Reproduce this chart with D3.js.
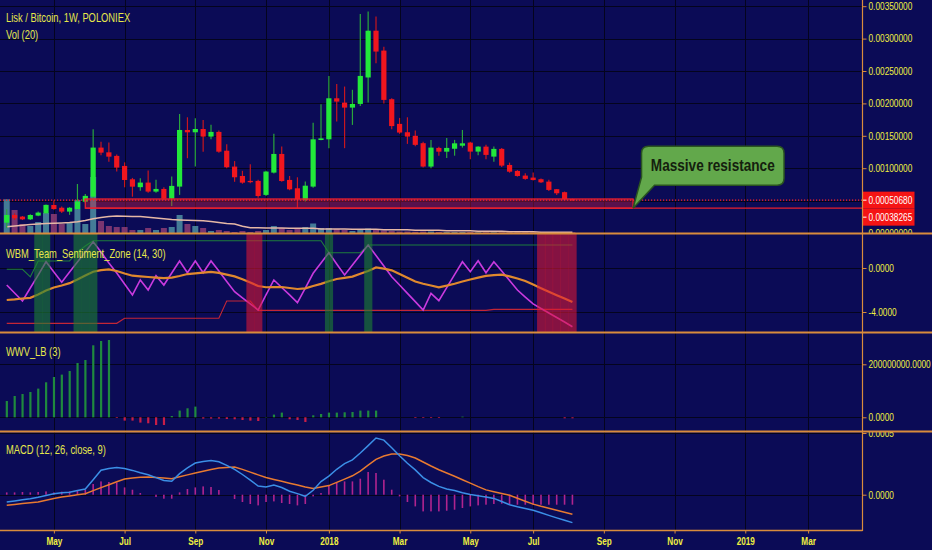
<!DOCTYPE html>
<html>
<head>
<meta charset="utf-8">
<script src="https://cdn.jsdelivr.net/npm/d3@7"></script>
<style>
  html, body { margin: 0; padding: 0; background: #0b0b56; }
  svg { display: block; }
</style>
</head>
<body>
<svg id="chart" width="932" height="550"></svg>
<script>
// ---- Weekly LSK/BTC (Poloniex), first bar in the week of 2017-03-20 ----
const firstWeek = "2017-03-20";

const opens = [
  0.000159,0.000278,0.000253,0.000211,0.000268,0.000304,0.000432,0.000390,0.000330,0.000370,
  0.000483,0.000560,0.001318,0.001245,0.001190,0.001035,0.000829,0.000707,0.000778,0.000639,
  0.000680,0.000530,0.000716,0.001590,0.001554,0.001605,0.001488,0.001560,0.001270,0.001025,
  0.000880,0.000804,0.000804,0.000588,0.000932,0.001220,0.000819,0.000690,0.000509,0.000716,
  0.001435,0.001446,0.002079,0.002012,0.001935,0.001992,0.002400,0.003122,0.002815,0.002065,
  0.001684,0.001555,0.001500,0.001386,0.001025,0.001313,0.001255,0.001300,0.001347,0.001395,
  0.001256,0.001333,0.001179,0.001298,0.001050,0.000958,0.000886,0.000855,0.000830,0.000793,
  0.000676,0.000630,0.000522
];
const highs = [
  0.000366,0.000304,0.000262,0.000290,0.000330,0.000440,0.000500,0.000410,0.000400,0.000756,
  0.000600,0.001600,0.001410,0.001395,0.001210,0.001090,0.000850,0.000845,0.000963,0.000820,
  0.000707,0.000870,0.001836,0.001786,0.001770,0.001745,0.001670,0.001580,0.001370,0.001110,
  0.000960,0.001060,0.000820,0.000960,0.001530,0.001333,0.000880,0.000860,0.000793,0.001700,
  0.001986,0.002423,0.002300,0.002260,0.002210,0.003380,0.003417,0.003340,0.002876,0.002080,
  0.001776,0.001786,0.001580,0.001410,0.001437,0.001330,0.001466,0.001437,0.001590,0.001410,
  0.001340,0.001360,0.001333,0.001310,0.001086,0.000970,0.000923,0.000932,0.000840,0.000820,
  0.000680,0.000640,0.000530
];
const lows = [
  0.0000725,0.000201,0.000200,0.000200,0.000260,0.000300,0.000360,0.000310,0.000280,0.000360,
  0.000460,0.000510,0.001200,0.001100,0.000950,0.000705,0.000560,0.000653,0.000620,0.000620,
  0.000510,0.000417,0.000588,0.001154,0.001025,0.001255,0.001447,0.001240,0.001000,0.000790,
  0.000760,0.000768,0.000545,0.000570,0.000920,0.000790,0.000660,0.000380,0.000485,0.000700,
  0.001430,0.001309,0.001720,0.001309,0.001668,0.001960,0.002012,0.002620,0.002000,0.001600,
  0.001530,0.001375,0.001340,0.001010,0.001000,0.001194,0.001157,0.001193,0.001318,0.001139,
  0.001200,0.001139,0.001100,0.001020,0.000930,0.000870,0.000820,0.000810,0.000770,0.000650,
  0.000588,0.000510,0.000500
];
const closes = [
  0.000278,0.000227,0.000211,0.000278,0.000315,0.000434,0.000370,0.000330,0.000390,0.000485,
  0.000573,0.001318,0.001240,0.001178,0.001010,0.000818,0.000715,0.000778,0.000639,0.000680,
  0.000530,0.000727,0.001590,0.001554,0.001605,0.001488,0.001560,0.001255,0.001015,0.000860,
  0.000777,0.000784,0.000571,0.000948,0.001220,0.000802,0.000674,0.000520,0.000730,0.001446,
  0.001460,0.002079,0.002028,0.001935,0.001992,0.002424,0.003122,0.002800,0.002054,0.001650,
  0.001550,0.001488,0.001360,0.001025,0.001318,0.001255,0.001313,0.001384,0.001384,0.001256,
  0.001333,0.001205,0.001298,0.001040,0.000946,0.000880,0.000835,0.000818,0.000782,0.000665,
  0.000613,0.000522,0.0005068
];
const volumes = [
  6740,4600,1800,1400,2200,4000,3800,1800,2000,6600,
  1800,11200,2400,1400,1200,1200,600,600,1000,600,
  1000,1200,3600,1800,1400,1000,400,600,400,200,
  400,200,400,600,1400,1000,600,1000,1200,1900,
  1000,1000,800,600,400,800,900,600,500,400,
  300,300,240,300,300,200,200,200,200,200,
  140,140,140,140,140,140,140,140,140,140,
  140,140,140
];
const volumeMA = [
  1260,1400,1560,1720,1800,1880,1940,2000,2080,2260,
  2500,2840,3100,3280,3380,3360,3320,3280,3140,3000,
  2840,2680,2600,2540,2480,2440,2280,2100,1920,1800,
  1360,1060,1040,1000,1000,1000,940,940,940,940,
  800,800,800,800,740,740,740,740,640,640,
  640,640,540,540,540,540,440,440,440,440,
  340,340,340,340,240,240,240,240,160,160,
  160,160,160
];

// Resistance zone drawn on the price pane
const zoneStart = "2017-05-29";
const zoneEnd = "2018-09-29";
const zoneTop = 0.000525;
const zoneBottom = 0.00038265;
const calloutText = "Massive resistance";

// WBM_Team_Sentiment_Zone (14, 30)
const sentiment = [
  -1.55,-2.27,-3.00,-1.82,-0.64,0.57,-0.36,-1.30,-0.36,0.55,
  1.45,2.39,1.45,0.45,-0.45,-1.45,-2.45,-1.09,-2.00,-0.70,
  -1.55,-0.45,0.64,-0.43,0.64,-0.43,0.64,-0.27,-1.23,-2.15,
  -2.71,-3.27,-3.82,-2.45,-1.09,-1.77,-2.45,-3.15,-1.82,-0.48,
  0.45,1.39,0.36,-0.64,0.27,1.18,2.09,1.14,0.18,-0.79,
  -1.55,-2.31,-3.06,-3.82,-2.30,-2.97,-1.79,-0.61,0.57,-0.34,
  0.66,-0.43,0.57,-0.27,-1.14,-2.00,-2.64,-3.27,-3.68,-4.09,
  -4.50,-4.91,-5.34
];
const sentimentSignal = [
  -2.91,-2.85,-2.77,-2.71,-2.41,-2.05,-1.77,-1.59,-1.38,-1.05,
  -0.68,-0.34,-0.20,-0.12,-0.27,-0.50,-0.70,-0.76,-0.82,-0.87,
  -0.92,-0.87,-0.73,-0.55,-0.49,-0.42,-0.35,-0.45,-0.60,-0.76,
  -1.03,-1.32,-1.64,-1.75,-1.73,-1.73,-1.82,-1.91,-1.85,-1.64,
  -1.44,-1.21,-1.00,-0.89,-0.78,-0.53,-0.27,0.05,-0.06,-0.21,
  -0.55,-0.88,-1.23,-1.43,-1.59,-1.75,-1.60,-1.43,-1.23,-1.05,
  -0.87,-0.72,-0.64,-0.61,-0.76,-0.95,-1.18,-1.51,-1.83,-2.15,
  -2.47,-2.78,-3.09
];
const sentimentUpper = [
  -0.12,-0.12,-0.12,-0.80,0.64,0.64,0.64,0.64,0.64,1.45,
  2.00,2.48,2.48,2.48,2.48,2.48,2.48,2.48,2.48,2.48,
  2.48,2.48,2.48,2.48,2.48,2.48,2.48,2.48,2.48,2.48,
  2.48,2.48,2.48,2.48,2.48,2.48,2.48,2.48,2.48,2.48,
  2.48,1.39,1.39,1.39,1.39,1.39,2.09,2.09,2.09,2.09,
  2.09,2.09,2.09,2.09,2.09,2.09,2.09,2.09,2.09,2.09,
  2.09,2.09,2.09,2.09,2.09,2.09,2.09,2.09,2.09,2.09,
  2.09,2.09,2.09
];
const sentimentLower = [
  -5.03,-5.03,-5.03,-5.03,-5.03,-5.03,-5.03,-5.03,-5.03,-5.03,
  -5.03,-5.03,-5.03,-5.03,-5.03,-4.57,-4.57,-4.57,-4.57,-4.57,
  -4.57,-4.57,-4.57,-4.57,-4.57,-4.57,-4.57,-4.57,-3.00,-3.00,
  -3.00,-3.00,-3.85,-3.85,-3.85,-3.85,-3.85,-3.85,-3.85,-3.85,
  -3.85,-3.85,-3.85,-3.85,-3.85,-3.85,-3.85,-3.85,-3.85,-3.85,
  -3.85,-3.85,-3.85,-3.85,-3.85,-3.85,-3.85,-3.85,-3.85,-3.85,
  -3.85,-3.85,-3.76,-3.76,-3.76,-3.76,-3.76,-3.76,-3.76,-3.76,
  -3.76,-3.76,-3.76
];
// bar numbers (1-based) flagged as bullish / bearish sentiment zones
const bullZoneBars = [5, 6, 10, 11, 12, 42, 47];
const bearZoneBars = [32, 33, 69, 70, 71, 72, 73];

// WWV_LB (3), in millions
const wwv = [
  61.5,80.4,87.9,95.5,108.3,132.1,152.1,161.1,174.7,204.9,
  216.2,271.7,288.0,291.7,-2.6,-12.5,-12.5,-20.0,-22.6,-29.1,
  -29.1,4.9,25.3,34.0,40.4,-4.9,-4.9,-4.9,-6.4,-7.5,
  -10.2,-12.5,-14.0,1.1,10.2,17.7,-7.5,-10.2,-17.7,7.5,
  12.5,17.7,17.7,18.9,20.0,25.3,25.3,25.3,0,0,
  0,0,-2.6,-2.6,-2.6,-2.6,0,0,2.6,0,
  0,0,0,0,0,0,0,0,0,0,
  0,-3.8,-3.8
];

// MACD (12, 26, close, 9), in units of 1e-5 BTC
const macdLine = [
  -5.92,-5.02,-4.13,-3.24,-2.11,-0.65,0.81,1.54,2.03,3.40,
  4.62,12.07,19.85,21.31,21.96,21.23,19.69,17.83,16.13,13.86,
  11.51,10.86,17.10,21.72,25.69,26.82,27.80,26.74,23.82,20.58,
  16.37,11.75,7.05,6.24,7.78,5.83,2.84,0.89,-1.30,3.57,
  10.62,15.07,20.58,25.20,28.28,33.79,39.79,45.95,44.25,38.01,
  31.52,25.45,20.10,13.86,9.89,6.73,4.62,3.40,1.62,0.16,
  -0.89,-1.94,-3.00,-5.51,-8.10,-9.81,-11.18,-12.64,-14.59,-16.77,
  -18.80,-20.75,-22.61
];
const macdSignal = [
  -8.59,-7.94,-7.21,-6.56,-5.92,-4.46,-3.00,-1.86,-0.97,-0.08,
  0.81,3.32,5.75,8.10,10.45,12.72,13.53,14.18,14.42,13.94,
  13.45,12.97,14.51,16.05,17.59,18.96,20.34,21.72,22.04,22.37,
  20.50,18.31,16.05,13.94,12.40,10.86,9.32,7.86,6.32,5.11,
  6.24,7.37,9.97,12.64,15.32,19.12,23.99,28.61,31.36,32.98,
  32.98,31.69,29.74,26.50,23.26,20.26,17.59,14.91,12.16,9.40,
  6.56,3.89,2.35,0.89,-0.49,-2.84,-5.27,-7.62,-9.40,-11.02,
  -12.64,-14.26,-15.88
];
const macdHist = [
  1.86,1.86,2.19,1.86,2.19,2.67,1.86,2.43,2.67,3.24,
  4.05,8.67,10.78,10.29,9.97,5.92,4.05,1.38,0,-1.86,
  -3.24,-3.24,1.86,4.62,5.92,6.73,6.24,3.81,0,-3.48,
  -5.92,-7.54,-8.67,-5.92,-5.43,-6.73,-7.54,-8.67,-7.54,-1.38,
  1.38,7.54,9.97,10.78,10.78,12.97,18.40,17.59,12.16,4.05,
  -1.38,-5.92,-9.48,-13.53,-13.53,-13.53,-12.97,-12.16,-10.78,-9.48,
  -8.67,-8.10,-7.54,-7.29,-7.70,-8.10,-8.10,-8.10,-8.10,-8.10,
  -8.10,-8.10,-8.10
];

// axis ticks
const priceTicks = [0, 0.0005, 0.001, 0.0015, 0.002, 0.0025, 0.003, 0.0035];
const sentimentTicks = [0, -4];
const wwvTicks = [0, 200];
const macdTicks = [0, 50];
const monthTickDates = ["2017-05-01","2017-07-03","2017-09-04","2017-11-06","2018-01-01","2018-03-05",
                        "2018-05-07","2018-07-02","2018-09-03","2018-11-05","2019-01-07","2019-03-04"];
const monthTickLabels = ["May","Jul","Sep","Nov","2018","Mar","May","Jul","Sep","Nov","2019","Mar"];
const visibleRange = ["2017-03-14", "2019-04-21"];

// ---------------------------------------------------------------
const W = 932, H = 550, plotRight = 862;
const BG = "#0b0b56", GRID = "#04041e", ORANGE = "#d98c3c", YELLOW = "#f0f040";
const FONT = "'Liberation Sans', Arial, sans-serif";
const NARROW = 0.78;            // horizontal squeeze giving a condensed face
const UP = "#22e83a", DOWN = "#f0161e";

// squeeze text horizontally around its own anchor x
function condense(sel, sx) {
  sel.each(function () {
    const t = d3.select(this);
    const x0 = +t.attr("x") || 0;
    t.attr("transform", `translate(${x0 * (1 - sx)},0) scale(${sx},1)`);
  });
}

const parse = d3.utcParse("%Y-%m-%d");
const dates = closes.map((_, i) => d3.utcDay.offset(parse(firstWeek), 7 * i));
const x = d3.scaleUtc().domain(visibleRange.map(parse)).range([0, plotRight]);
const barStep = x(dates[1]) - x(dates[0]);
const tickDates = monthTickDates.map(parse);

const svg = d3.select("#chart");
svg.append("rect").attr("width", W).attr("height", H).attr("fill", BG);
const defs = svg.append("defs");

function makePane(name, y0, y1) {
  defs.append("clipPath").attr("id", "clip-" + name)
    .append("rect").attr("x", 0).attr("y", y0).attr("width", plotRight).attr("height", y1 - y0);
  defs.append("clipPath").attr("id", "clip-axis-" + name)
    .append("rect").attr("x", plotRight).attr("y", y0).attr("width", W - plotRight).attr("height", y1 - y0);
  const g = svg.append("g").attr("clip-path", `url(#clip-${name})`);
  const ga = svg.append("g").attr("clip-path", `url(#clip-axis-${name})`);
  // vertical month grid
  g.append("g").selectAll("line").data(tickDates).join("line")
    .attr("x1", d => Math.round(x(d)) + 0.5).attr("x2", d => Math.round(x(d)) + 0.5)
    .attr("y1", y0).attr("y2", y1).attr("stroke", GRID).attr("stroke-width", 1);
  return { g, ga, y0, y1 };
}

function hGrid(p, scale, ticks) {
  p.g.append("g").selectAll("line").data(ticks).join("line")
    .attr("x1", 0).attr("x2", plotRight)
    .attr("y1", d => Math.round(scale(d)) + 0.5).attr("y2", d => Math.round(scale(d)) + 0.5)
    .attr("stroke", GRID).attr("stroke-width", 1);
}

function rightAxis(p, scale, ticks, fmt) {
  const ax = p.ga.append("g").attr("transform", `translate(${plotRight + 0.5},0)`)
    .call(d3.axisRight(scale).tickValues(ticks).tickFormat(fmt).tickSize(4).tickPadding(2));
  ax.attr("font-family", FONT).attr("font-size", 10.5);
  ax.select(".domain").remove();
  ax.selectAll(".tick line").attr("stroke", ORANGE);
  ax.selectAll(".tick text").attr("fill", YELLOW).call(condense, 0.79);
  return ax;
}

function legend(text, y, size) {
  svg.append("text").attr("x", 6).attr("y", y).attr("dy", "0.35em")
    .attr("font-family", FONT).attr("font-size", size || 12).attr("fill", "#e6e84a").text(text)
    .call(condense, NARROW);
}

const xi = i => x(dates[i]);

// ================= Price pane =================
const pricePane = makePane("price", 0, 233);
const yPrice = d3.scaleLinear().domain([0, 0.0035]).range([233, 6.2]);
const yVol = d3.scaleLinear().domain([0, 28000]).range([233, 93]);
hGrid(pricePane, yPrice, priceTicks);

// volume histogram
pricePane.g.append("g").selectAll("rect").data(volumes).join("rect")
  .attr("x", (d, i) => xi(i) - 3).attr("width", 6)
  .attr("y", d => yVol(d)).attr("height", d => yVol(0) - yVol(d))
  .attr("fill", (d, i) => closes[i] >= opens[i] ? "#4f8fa2" : "#8e3d74")
  .attr("opacity", 0.85);
pricePane.g.append("path").datum(volumeMA)
  .attr("d", d3.line().x((d, i) => xi(i)).y(d => yVol(d)))
  .attr("fill", "none").attr("stroke", "#e6b8a6").attr("stroke-width", 1.5);

// candles
const candle = pricePane.g.append("g").selectAll("g").data(closes).join("g");
candle.append("line")
  .attr("x1", (d, i) => xi(i)).attr("x2", (d, i) => xi(i))
  .attr("y1", (d, i) => yPrice(highs[i])).attr("y2", (d, i) => yPrice(lows[i]))
  .attr("stroke", (d, i) => closes[i] >= opens[i] ? "#2aa63c" : "#c8161e").attr("stroke-width", 1.2);
candle.append("rect")
  .attr("x", (d, i) => xi(i) - 2.6).attr("width", 5.2)
  .attr("y", (d, i) => yPrice(Math.max(opens[i], closes[i])))
  .attr("height", (d, i) => Math.max(1.2, Math.abs(yPrice(opens[i]) - yPrice(closes[i]))))
  .attr("fill", (d, i) => closes[i] >= opens[i] ? UP : DOWN);

// resistance zone
const zx0 = x(parse(zoneStart)), zx1 = x(parse(zoneEnd));
pricePane.g.append("rect")
  .attr("x", zx0).attr("y", yPrice(zoneTop))
  .attr("width", zx1 - zx0).attr("height", yPrice(zoneBottom) - yPrice(zoneTop))
  .attr("fill", "rgba(215,30,60,0.38)").attr("stroke", "#e8202e").attr("stroke-width", 1.3);
pricePane.g.append("line")
  .attr("x1", zx0).attr("x2", plotRight)
  .attr("y1", yPrice(zoneBottom)).attr("y2", yPrice(zoneBottom))
  .attr("stroke", "#e8202e").attr("stroke-width", 1.3);
const lastClose = closes[closes.length - 1];
pricePane.g.append("line")
  .attr("x1", 0).attr("x2", plotRight)
  .attr("y1", yPrice(lastClose)).attr("y2", yPrice(lastClose))
  .attr("stroke", "#ff2424").attr("stroke-width", 1.2).attr("stroke-dasharray", "1.2,1.8");

rightAxis(pricePane, yPrice, priceTicks, d => d.toFixed(8));

// price labels for last close and the zone floor
{
  const h = 17;
  const yA = yPrice(lastClose);
  const yB = Math.max(yPrice(zoneBottom), yA + h);
  [[yA, lastClose], [yB, zoneBottom]].forEach(([yy, v]) => {
    svg.append("rect").attr("x", plotRight + 0.5).attr("y", yy - h / 2).attr("width", 52).attr("height", h)
      .attr("fill", "#f51414");
    svg.append("line").attr("x1", plotRight + 0.5).attr("x2", plotRight + 4.5)
      .attr("y1", yy).attr("y2", yy).attr("stroke", "#ffffff").attr("stroke-width", 1);
    svg.append("text").attr("x", plotRight + 6.5).attr("y", yy).attr("dy", "0.35em")
      .attr("font-family", FONT).attr("font-size", 10.5).attr("fill", "#ffffff").text(v.toFixed(8))
      .call(condense, 0.79);
  });
}

// callout
{
  const tx = zx1, ty = yPrice(zoneBottom);
  const bx0 = tx + 8.5, bx1 = tx + 151, by0 = ty - 62, by1 = ty - 23, r = 7;
  const path = `M${bx0 + r},${by0} H${bx1 - r} Q${bx1},${by0} ${bx1},${by0 + r} V${by1 - r} Q${bx1},${by1} ${bx1 - r},${by1}
    H${bx0 + 13} L${tx},${ty} L${bx0},${by1 - 8} V${by0 + r} Q${bx0},${by0} ${bx0 + r},${by0} Z`;
  svg.append("path").attr("d", path).attr("fill", "#62a84b").attr("stroke", "#2a5420").attr("stroke-width", 1.5);
  svg.append("text").attr("x", (bx0 + bx1) / 2).attr("y", (by0 + by1) / 2).attr("dy", "0.36em")
    .attr("text-anchor", "middle").attr("font-family", FONT).attr("font-weight", "bold")
    .attr("font-size", 16).attr("fill", "#14200e").text(calloutText)
    .call(condense, 0.85);
}

legend("Lisk / Bitcoin, 1W, POLONIEX", 17.5, 12);
legend("Vol (20)", 35, 12);

// ================= Sentiment pane =================
const sentPane = makePane("sent", 234, 332);
const ySent = d3.scaleLinear().domain([0, -4]).range([268, 312]);
hGrid(sentPane, ySent, sentimentTicks);
const sLine = d3.line().x((d, i) => xi(i)).y(d => ySent(d));
sentPane.g.append("path").datum(sentimentUpper).attr("d", sLine)
  .attr("fill", "none").attr("stroke", "#1f7d3c").attr("stroke-width", 1.1);
sentPane.g.append("path").datum(sentimentLower).attr("d", sLine)
  .attr("fill", "none").attr("stroke", "#c42636").attr("stroke-width", 1.1);
sentPane.g.append("path").datum(sentiment).attr("d", sLine)
  .attr("fill", "none").attr("stroke", "#c93ade").attr("stroke-width", 1.6);
sentPane.g.append("path").datum(sentimentSignal).attr("d", sLine)
  .attr("fill", "none").attr("stroke", "#e0892e").attr("stroke-width", 2.2);
// zone overlays
sentPane.g.append("g").selectAll("rect").data(bullZoneBars).join("rect")
  .attr("x", k => xi(k - 1) - barStep / 2).attr("width", barStep + 0.3)
  .attr("y", 234).attr("height", 98).attr("fill", "rgba(30,130,50,0.6)");
sentPane.g.append("g").selectAll("rect").data(bearZoneBars).join("rect")
  .attr("x", k => xi(k - 1) - barStep / 2).attr("width", barStep + 0.3)
  .attr("y", 234).attr("height", 98).attr("fill", "rgba(222,24,52,0.58)");
rightAxis(sentPane, ySent, sentimentTicks, d => d.toFixed(4));
legend("WBM_Team_Sentiment_Zone (14, 30)", 254);

// ================= WWV_LB pane =================
const wwvPane = makePane("wwv", 333, 431);
const yWwv = d3.scaleLinear().domain([0, 200]).range([417.3, 364.3]);
hGrid(wwvPane, yWwv, wwvTicks);
wwvPane.g.append("g").selectAll("rect").data(wwv).join("rect")
  .attr("x", (d, i) => xi(i) - 1).attr("width", 2.2)
  .attr("y", d => yWwv(Math.max(0, d))).attr("height", d => Math.abs(yWwv(d) - yWwv(0)))
  .attr("fill", d => d >= 0 ? "#1f8a3e" : "#c81e48");
rightAxis(wwvPane, yWwv, wwvTicks, d => (d * 1e6).toFixed(4));
legend("WWV_LB (3)", 352);

// ================= MACD pane =================
const macdPane = makePane("macd", 432, 530);
const yMacd = d3.scaleLinear().domain([0, 50]).range([494.7, 433]);
hGrid(macdPane, yMacd, macdTicks);
macdPane.g.append("g").selectAll("rect").data(macdHist).join("rect")
  .attr("x", (d, i) => xi(i) - 0.8).attr("width", 1.6)
  .attr("y", d => yMacd(Math.max(0, d))).attr("height", d => Math.abs(yMacd(d) - yMacd(0)))
  .attr("fill", "#b0248e");
const mLine = d3.line().x((d, i) => xi(i)).y(d => yMacd(d));
macdPane.g.append("path").datum(macdSignal).attr("d", mLine)
  .attr("fill", "none").attr("stroke", "#e87a30").attr("stroke-width", 1.5);
macdPane.g.append("path").datum(macdLine).attr("d", mLine)
  .attr("fill", "none").attr("stroke", "#3b8fe6").attr("stroke-width", 1.5);
rightAxis(macdPane, yMacd, macdTicks, d => (d * 1e-5).toFixed(4));
legend("MACD (12, 26, close, 9)", 450);

// ================= frame and time axis =================
[233.5, 332.5, 431.5].forEach(yy => {
  svg.append("line").attr("x1", 0).attr("x2", W).attr("y1", yy).attr("y2", yy)
    .attr("stroke", ORANGE).attr("stroke-width", 2);
});
svg.append("line").attr("x1", 0).attr("x2", plotRight + 0.5).attr("y1", 530.5).attr("y2", 530.5)
  .attr("stroke", ORANGE).attr("stroke-width", 1.5);
svg.append("line").attr("x1", plotRight + 0.5).attr("x2", plotRight + 0.5).attr("y1", 0).attr("y2", 531)
  .attr("stroke", ORANGE).attr("stroke-width", 1.2);

const xAxis = svg.append("g").attr("transform", "translate(0,530.5)")
  .call(d3.axisBottom(x).tickValues(tickDates)
    .tickFormat((d, i) => monthTickLabels[i]).tickSize(3).tickPadding(4));
xAxis.attr("font-family", FONT).attr("font-size", 10.5).attr("font-weight", "bold");
xAxis.select(".domain").remove();
xAxis.selectAll(".tick line").attr("stroke", ORANGE);
xAxis.selectAll(".tick text").attr("fill", YELLOW).call(condense, NARROW);
</script>
</body>
</html>
